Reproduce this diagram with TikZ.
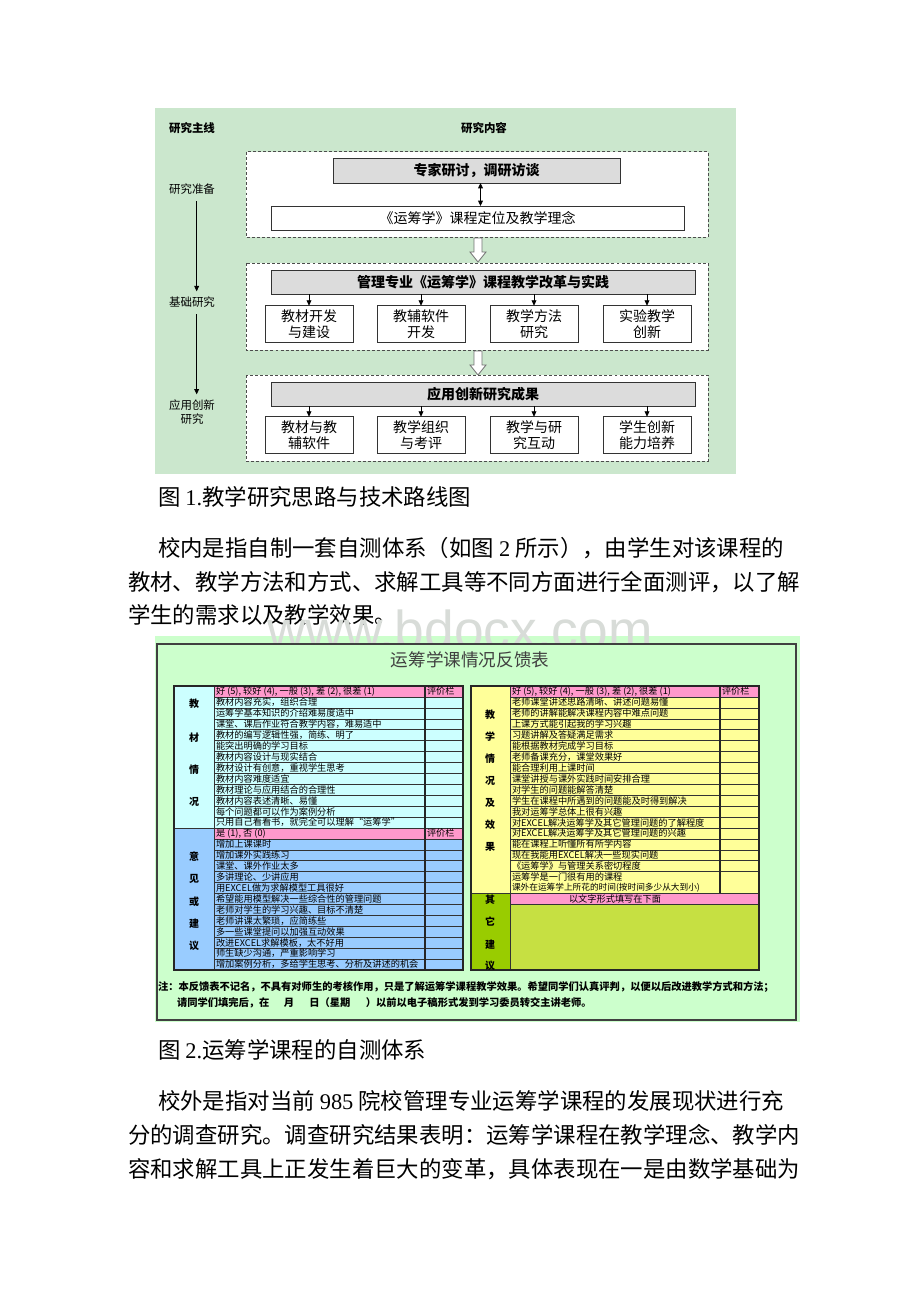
\documentclass[tikz,border=0pt]{standalone}
\usepackage{fontspec}
\setmainfont{Liberation Serif}
\newfontfamily\cjk{Noto Sans CJK SC}
\newfontfamily\wmfont{Liberation Sans}
\usetikzlibrary{arrows.meta}
\definecolor{bggreen}{HTML}{CBE7CD}
\definecolor{boxgray}{HTML}{DCDCDC}
\definecolor{panelgreen}{HTML}{CCFFCC}
\definecolor{cyanc}{HTML}{CCFFFF}
\definecolor{bluec}{HTML}{99CCFF}
\definecolor{yellowc}{HTML}{FFFF99}
\definecolor{pinkc}{HTML}{FF99CC}
\definecolor{oliveA}{HTML}{99CC00}
\definecolor{oliveB}{HTML}{C6E042}
\definecolor{wmgray}{HTML}{D8DCD8}
\newcommand\lat[1]{{\rmfamily #1}}
\begin{document}
\begin{tikzpicture}[x=0.75pt,y=-0.75pt,
  every node/.style={inner sep=0pt,outer sep=0pt},
  lbl/.style={font=\cjk\fontsize{8.6}{10.4}\selectfont,align=center},
  lblb/.style={font=\cjk\bfseries\fontsize{8.6}{10}\selectfont},
  dashbox/.style={draw=black!70,dash pattern=on 2.2pt off 1.6pt,line width=0.75pt,fill=white},
  headbox/.style={draw=black!80,line width=0.6pt,fill=boxgray,font=\cjk\bfseries\fontsize{10.5}{12}\selectfont},
  plainbox/.style={draw=black!80,line width=0.6pt,fill=white,font=\cjk\fontsize{10.5}{12}\selectfont},
  subbox/.style={draw=black!80,line width=0.6pt,fill=white,align=center,minimum width=66pt,minimum height=27.5pt,font=\cjk\fontsize{10.5}{11.6}\selectfont},
  arr/.style={-{Triangle[length=4pt,width=3.6pt]},line width=0.6pt},
  darr/.style={{Triangle[length=4pt,width=3.6pt]}-{Triangle[length=4pt,width=3.6pt]},line width=0.6pt},
  hollow/.style={draw=black!55,fill=white,line width=0.6pt},
  thinline/.style={draw=black!80,line width=0.4pt},
  midline/.style={draw=black!85,line width=1pt},
  outline/.style={draw=black!85,line width=1.3pt},
  cell/.style={anchor=west,font=\cjk\fontsize{6.9}{8}\selectfont},
  cat/.style={font=\cjk\bfseries\fontsize{7.5}{8}\selectfont},
  note/.style={anchor=west,font=\cjk\bfseries\fontsize{7.7}{9}\selectfont},
  para/.style={anchor=west,font=\cjk\fontsize{16.8}{20}\selectfont}]
\useasboundingbox (0,0) rectangle (920,1302);
\fill[white] (0,0) rectangle (920,1302);

% ---------------- Figure 1 ----------------
\fill[bggreen] (155,108) rectangle (736,474);
\node[lblb] (hl) at (192,128) {研究主线};
\node[lblb] (hr) at (484,128) {研究内容};

\node[lbl] (l1) at (192,189) {研究准备};
\node[lbl] (l2) at (192,302) {基础研究};
\node[lbl] (l3) at (192,412) {应用创新\\研究};
\draw[arr] ([xshift=3.5pt,yshift=-5pt]l1.south) -- ([xshift=3.5pt,yshift=4pt]l2.north);
\draw[arr] ([xshift=3.5pt,yshift=-5pt]l2.south) -- ([xshift=3.5pt,yshift=4pt]l3.north);

\draw[dashbox] (246,152) rectangle (708,237);
\node[headbox,minimum width=215.25pt,minimum height=18.75pt] (e1) at (476.5,170.5) {专家研讨，调研访谈};
\node[plainbox,minimum width=309.75pt,minimum height=18pt] (e2) at (477.5,218) {《运筹学》课程定位及教学理念};
\draw[darr] ([xshift=3pt]e1.south) -- ([xshift=3pt]e1.south |- e2.north);

\coordinate (h1) at (478,238);
\draw[hollow] (h1) ++(-4,0) -- ++(8,0) -- ++(0,14) -- ++(4,0) -- ++(-8,10) -- ++(-8,-10) -- ++(4,0) -- cycle;

\draw[dashbox] (246,263) rectangle (708,350);
\node[headbox,minimum width=318pt,minimum height=18pt] (g2) at (483,282) {管理专业《运筹学》课程教学改革与实践};
\foreach \x/\t [count=\i] in {309/{教材开发\\与建设},421/{教辅软件\\开发},534/{教学方法\\研究},647/{实验教学\\创新}}{
  \node[subbox] (s\i) at (\x,324) {\t};
  \draw[arr] (s\i.north |- g2.south) -- (s\i.north);
}

\coordinate (h2) at (478,351);
\draw[hollow] (h2) ++(-4,0) -- ++(8,0) -- ++(0,14) -- ++(4,0) -- ++(-8,10) -- ++(-8,-10) -- ++(4,0) -- cycle;

\draw[dashbox] (246,375) rectangle (708,461);
\node[headbox,minimum width=318pt,minimum height=18pt] (g3) at (483,394) {应用创新研究成果};
\foreach \x/\t [count=\i] in {309/{教材与教\\辅软件},421/{教学组织\\与考评},534/{教学与研\\究互动},647/{学生创新\\能力培养}}{
  \node[subbox] (t\i) at (\x,435) {\t};
  \draw[arr] (t\i.north |- g3.south) -- (t\i.north);
}

% ---------------- text ----------------
\node[para] (cap1) at (158,497) {图 \lat{1.}教学研究思路与技术路线图};
\node[para] (p1) at (158,548) {校内是指自制一套自测体系（如图 \lat{2} 所示），由学生对该课程的};
\node[para] (p2) at (128,582) {教材、教学方法和方式、求解工具等不同方面进行全面测评，以了解};
\node[para] (p3) at (128,615) {学生的需求以及教学效果。};

% ---------------- Figure 2 ----------------
\fill[panelgreen] (155,636) rectangle (800,1022);
\begin{scope}
  \clip (155,590) rectangle (800,644);
  \node[anchor=base,font=\wmfont\fontsize{40}{40}\selectfont,text=wmgray] (wm) at (460,648) {www.bdocx.com};
\end{scope}
\draw[draw=black!75,line width=0.8pt] (157,644) rectangle (796,1020);
\node[font=\cjk\fontsize{13.2}{15}\selectfont,text=black!75] (ttl) at (470,660) {运筹学课情况反馈表};

% left table
\fill[cyanc] (174,686) rectangle (463,828);
\fill[bluec] (174,828) rectangle (463,970);
\fill[pinkc] (214,686) rectangle (463,696.92);
\fill[pinkc] (214,828) rectangle (463,838.92);
\foreach \k in {1,...,25} \draw[thinline] (214,686+\k*10.92) -- (463,686+\k*10.92);
\draw[thinline] (174,828) -- (214,828);
\draw[thinline] (214,686) -- (214,970);
\draw[midline] (425,686) -- (425,970);
\draw[outline] (174,686) rectangle (463,970);

\node[cell] (lh1) at (216,691.46) {好 (5), 较好 (4), 一般 (3), 差 (2), 很差 (1)};
\node[cell] (lp1) at (427,691.46) {评价栏};
\foreach \t [count=\i] in {教材内容充实，组织合理,运筹学基本知识的介绍难易度适中,课堂、课后作业符合教学内容，难易适中,教材的编写逻辑性强，简练、明了,能突出明确的学习目标,教材内容设计与现实结合,教材设计有创意，重视学生思考,教材内容难度适宜,教材理论与应用结合的合理性,教材内容表述清晰、易懂,每个问题都可以作为案例分析,只用自己看看书，就完全可以理解“运筹学”}
  \node[cell] (la\i) at (216,686+\i*10.92+5.46) {\t};
\node[cell] (lh2) at (216,833.42) {是 (1), 否 (0)};
\node[cell] (lp2) at (427,833.42) {评价栏};
\foreach \t [count=\i from 14] in {增加上课课时,增加课外实践练习,课堂、课外作业太多,多讲理论、少讲应用,用EXCEL做为求解模型工具很好,希望能用模型解决一些综合性的管理问题,老师对学生的学习兴趣、目标不清楚,老师讲课太繁琐，应简练些,多一些课堂提问以加强互动效果,改进EXCEL求解模板，太不好用,师生缺少沟通，严重影响学习,增加案例分析，多给学生思考、分析及讲述的机会}
  \node[cell] (lb\i) at (216,686+\i*10.92+5.46) {\t};

\foreach \t/\y [count=\i] in {教/704,材/738,情/770,况/802,意/857,见/879,或/902,建/924,议/946}
  \node[cat] (lc\i) at (194,\y) {\t};

% right table
\fill[yellowc] (471,686) rectangle (759,893.48);
\fill[pinkc] (510,686) rectangle (759,696.92);
\fill[oliveA] (471,893.48) rectangle (510,970);
\fill[pinkc] (510,893.48) rectangle (759,904.4);
\fill[oliveB] (510,904.4) rectangle (759,970);
\foreach \k in {1,...,17} \draw[thinline] (510,686+\k*10.92) -- (759,686+\k*10.92);
\draw[thinline] (471,893.48) -- (759,893.48);
\draw[thinline] (510,904.4) -- (759,904.4);
\draw[thinline] (510,686) -- (510,970);
\draw[midline] (720,686) -- (720,893.48);
\draw[outline] (471,686) rectangle (759,970);

\node[cell] (rh1) at (512,691.46) {好 (5), 较好 (4), 一般 (3), 差 (2), 很差 (1)};
\node[cell] (rp1) at (722,691.46) {评价栏};
\foreach \t [count=\i] in {老师课堂讲述思路清晰、讲述问题易懂,老师的讲解能解决课程内容中难点问题,上课方式能引起我的学习兴趣,习题讲解及答疑满足需求,能根据教材完成学习目标,老师备课充分，课堂效果好,能合理利用上课时间,课堂讲授与课外实践时间安排合理,对学生的问题能解答清楚,学生在课程中所遇到的问题能及时得到解决,我对运筹学总体上很有兴趣,对EXCEL解决运筹学及其它管理问题的了解程度,对EXCEL解决运筹学及其它管理问题的兴趣,能在课程上听懂所有所学内容,现在我能用EXCEL解决一些现实问题,《运筹学》与管理关系密切程度,运筹学是一门很有用的课程}
  \node[cell] (ra\i) at (512,686+\i*10.92+5.46) {\t};
\node[cell,font=\cjk\fontsize{6.5}{8}\selectfont] (ra18) at (512,888.02) {课外在运筹学上所花的时间(按时间多少从大到小)};
\node[font=\cjk\fontsize{6.9}{8}\selectfont] (rq) at (615,898.94) {以文字形式填写在下面};

\foreach \t/\y [count=\i] in {教/715,学/737,情/759,况/781,及/803,效/825,果/847,其/900,它/922,建/945,议/966}
  \node[cat] (rc\i) at (490,\y) {\t};

\node[note] (n1) at (158,987) {注：本反馈表不记名，不具有对师生的考核作用，只是了解运筹学课程教学效果。希望同学们认真评判，以便以后改进教学方式和方法；};
\node[note] (n2) at (177,1003) {请同学们填完后，在\hspace{1.4em}月\hspace{1.5em}日（星期\hspace{1.5em}）以前以电子稿形式发到学习委员转交主讲老师。};

% ---------------- text ----------------
\node[para] (cap2) at (158,1050) {图 \lat{2.}运筹学课程的自测体系};
\node[para] (q1) at (158,1101) {校外是指对当前 \lat{985} 院校管理专业运筹学课程的发展现状进行充};
\node[para] (q2) at (128,1135) {分的调查研究。调查研究结果表明：运筹学课程在教学理念、教学内};
\node[para] (q3) at (128,1169) {容和求解工具上正发生着巨大的变革，具体表现在一是由数学基础为};
\end{tikzpicture}
\end{document}
